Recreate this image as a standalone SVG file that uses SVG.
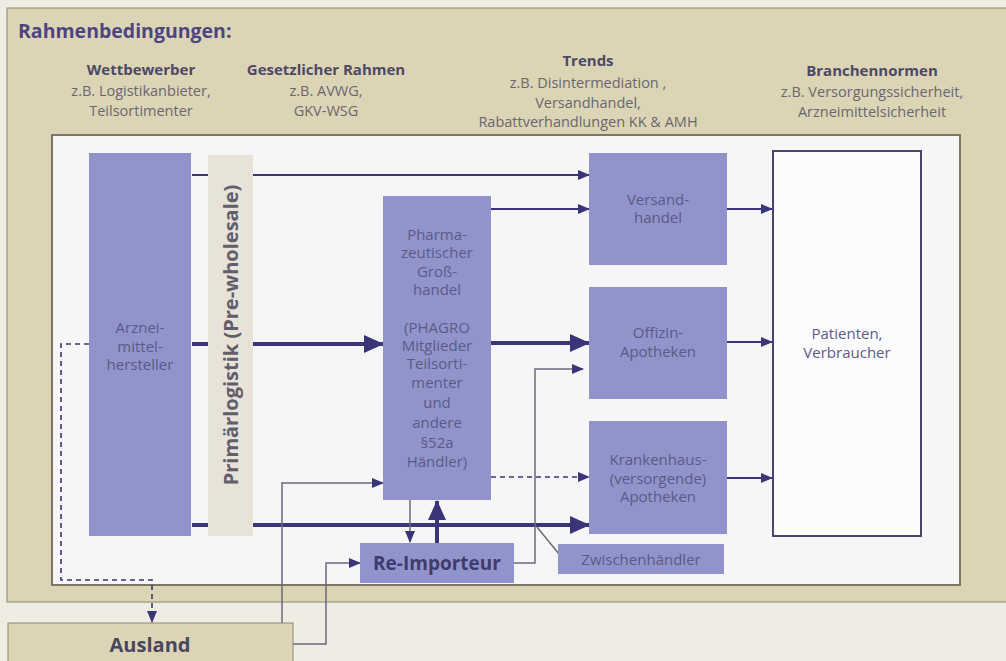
<svg xmlns="http://www.w3.org/2000/svg" width="1006" height="661" viewBox="0 0 1006 661">
<style>
text{font-family:"Open Sans","Liberation Sans",sans-serif;}
.hdr{font-weight:bold;font-size:15px;fill:#4d4866;text-anchor:middle;}
.sub{font-size:14.5px;fill:#6a6670;text-anchor:middle;}
.node{fill:#9194cb;}
.nt{font-size:15px;fill:#5b5a86;text-anchor:middle;}
.ln{stroke:#3a3577;fill:none;stroke-width:2;}
.thick{stroke:#3a3577;fill:none;stroke-width:4;}
.gray{stroke:#6b6880;fill:none;stroke-width:1.5;}
.dash{stroke:#3a3577;fill:none;stroke-width:1.6;stroke-dasharray:5 4;}
</style>
<defs>
<marker id="a" markerUnits="userSpaceOnUse" markerWidth="12" markerHeight="10" refX="11" refY="5" orient="auto"><path d="M0,0 L12,5 L0,10 Z" fill="#3a3577"/></marker>
<marker id="A" markerUnits="userSpaceOnUse" markerWidth="20" markerHeight="18" refX="19" refY="9" orient="auto"><path d="M0,0 L20,9 L0,18 Z" fill="#3a3577"/></marker>
</defs>
<rect x="0" y="0" width="1006" height="661" fill="#efede3"/>
<rect x="7" y="8" width="1005" height="594" fill="#dcd5b5" stroke="#8c8570" stroke-width="1"/>
<text x="18" y="38" font-weight="bold" font-size="19.5" fill="#4d4580">Rahmenbedingungen:</text>
<g id="headers">
<text class="hdr" x="141" y="75">Wettbewerber</text>
<text class="sub" x="141" y="96">z.B. Logistikanbieter,</text>
<text class="sub" x="141" y="116">Teilsortimenter</text>
<text class="hdr" x="326" y="75">Gesetzlicher Rahmen</text>
<text class="sub" x="326" y="96">z.B. AVWG,</text>
<text class="sub" x="326" y="116">GKV-WSG</text>
<text class="hdr" x="588" y="66">Trends</text>
<text class="sub" x="588" y="88">z.B. Disintermediation ,</text>
<text class="sub" x="588" y="108">Versandhandel,</text>
<text class="sub" x="588" y="127">Rabattverhandlungen KK &amp; AMH</text>
<text class="hdr" x="872" y="76">Branchennormen</text>
<text class="sub" x="872" y="97">z.B. Versorgungssicherheit,</text>
<text class="sub" x="872" y="117">Arzneimittelsicherheit</text>
</g>
<rect x="52" y="135" width="908" height="450" fill="#f7f6f6" stroke="#7d7665" stroke-width="2"/>
<g id="connectors">
<line class="ln" x1="192" y1="175" x2="589" y2="175" marker-end="url(#a)"/>
<line class="ln" x1="491" y1="209" x2="589" y2="209" marker-end="url(#a)"/>
<line class="thick" x1="192" y1="344" x2="383" y2="344" marker-end="url(#A)"/>
<line class="thick" x1="491" y1="343" x2="589" y2="343" marker-end="url(#A)"/>
<line class="thick" x1="192" y1="525" x2="589" y2="525" marker-end="url(#A)"/>
<line class="ln" x1="727" y1="209" x2="772" y2="209" marker-end="url(#a)"/>
<line class="ln" x1="727" y1="342" x2="772" y2="342" marker-end="url(#a)"/>
<line class="ln" x1="727" y1="478" x2="772" y2="478" marker-end="url(#a)"/>
<line class="dash" x1="491" y1="477" x2="589" y2="477" marker-end="url(#a)"/>
<line class="gray" x1="410" y1="500" x2="410" y2="542" marker-end="url(#a)"/>
<line class="thick" x1="437" y1="543" x2="437" y2="501" marker-end="url(#A)"/>
<polyline class="gray" points="282,623 282,483 383,483" marker-end="url(#a)"/>
<polyline class="gray" points="293,644 326,644 326,563 360,563" marker-end="url(#a)"/>
<polyline class="gray" points="514,563 535,563 535,369 583,369" marker-end="url(#a)"/>
<line class="gray" x1="537" y1="527" x2="559" y2="554"/>
<polyline class="dash" points="89,344 61,344 61,580 152,580 152,622" marker-end="url(#a)"/>
</g>
<g id="hersteller">
<rect class="node" x="89" y="153" width="102" height="383"/>
<text class="nt" x="140" y="333">Arznei-</text>
<text class="nt" x="140" y="352">mittel-</text>
<text class="nt" x="140" y="370">hersteller</text>
</g>
<g id="primaerlogistik">
<rect x="208" y="155" width="45" height="381" fill="#e7e3d8"/>
<text x="238" y="335" transform="rotate(-90 238 335)" text-anchor="middle" font-weight="bold" font-size="20" fill="#625e6a">Primärlogistik (Pre-wholesale)</text>
</g>
<g id="grosshandel">
<rect class="node" x="383" y="196" width="108" height="304"/>
<text class="nt" x="437" y="240">Pharma-</text>
<text class="nt" x="437" y="258">zeutischer</text>
<text class="nt" x="437" y="277">Groß-</text>
<text class="nt" x="437" y="295">handel</text>
<text class="nt" x="437" y="333">(PHAGRO</text>
<text class="nt" x="437" y="351">Mitglieder</text>
<text class="nt" x="437" y="369">Teilsorti-</text>
<text class="nt" x="437" y="388">menter</text>
<text class="nt" x="437" y="408">und</text>
<text class="nt" x="437" y="428">andere</text>
<text class="nt" x="437" y="448">§52a</text>
<text class="nt" x="437" y="467">Händler)</text>
</g>
<g id="versandhandel">
<rect class="node" x="589" y="153" width="138" height="112"/>
<text class="nt" x="658" y="205">Versand-</text>
<text class="nt" x="658" y="223">handel</text>
</g>
<g id="offizin">
<rect class="node" x="589" y="287" width="138" height="112"/>
<text class="nt" x="658" y="338">Offizin-</text>
<text class="nt" x="658" y="357">Apotheken</text>
</g>
<g id="krankenhaus">
<rect class="node" x="589" y="421" width="138" height="113"/>
<text class="nt" x="658" y="465">Krankenhaus-</text>
<text class="nt" x="658" y="484">(versorgende)</text>
<text class="nt" x="658" y="502">Apotheken</text>
</g>
<g id="zwischenhaendler">
<rect class="node" x="558" y="544" width="166" height="30"/>
<text class="nt" x="641" y="565">Zwischenhändler</text>
</g>
<g id="reimporteur">
<rect class="node" x="360" y="543" width="154" height="40"/>
<text x="437" y="570" text-anchor="middle" font-weight="bold" font-size="19" fill="#3f3b6e">Re-Importeur</text>
</g>
<g id="patienten">
<rect x="773" y="151" width="148" height="385" fill="#fbfbfc" stroke="#4a4570" stroke-width="2"/>
<text class="nt" x="847" y="339">Patienten,</text>
<text class="nt" x="847" y="358">Verbraucher</text>
</g>
<g id="ausland">
<rect x="8" y="623" width="285" height="45" fill="#dcd5b5" stroke="#8c8570" stroke-width="1"/>
<text x="150" y="652" text-anchor="middle" font-weight="bold" font-size="20" fill="#4a4660">Ausland</text>
</g>
</svg>
